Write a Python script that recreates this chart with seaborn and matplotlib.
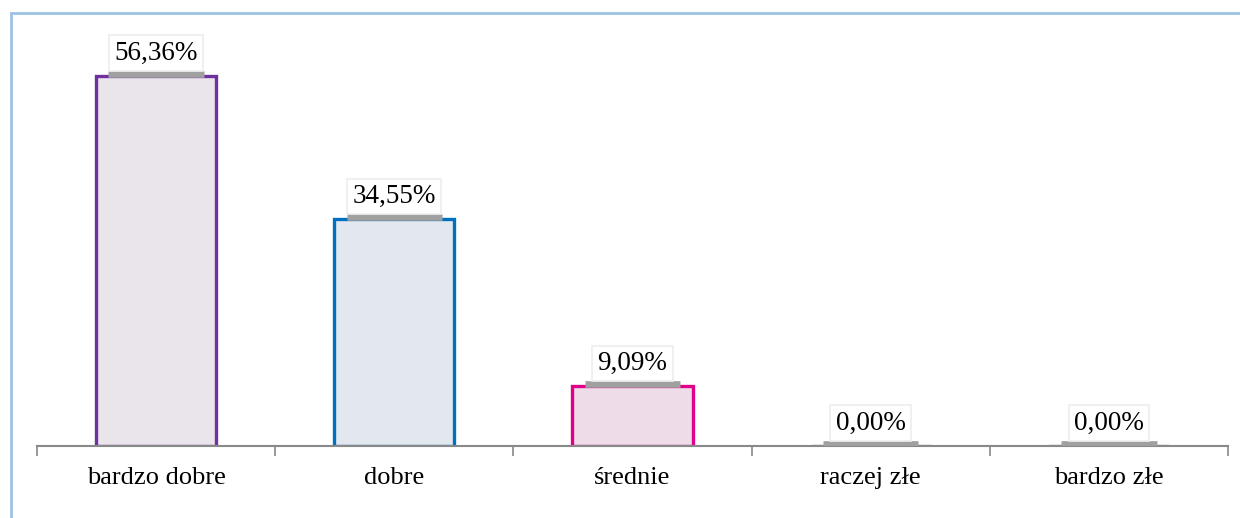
import numpy as np
import pandas as pd
import seaborn as sns
import matplotlib.pyplot as plt
import matplotlib.transforms as mtransforms
from matplotlib.patches import Rectangle

# Data
categories = ["bardzo dobre", "dobre", "średnie", "raczej złe", "bardzo złe"]
values = [56.36, 34.55, 9.09, 0.00, 0.00]
labels = ["56,36%", "34,55%", "9,09%", "0,00%", "0,00%"]
edge_colors = ["#7030A0", "#0070C0", "#E0008A", "#7F7F7F", "#7F7F7F"]
face_colors = ["#E9E4EC", "#E1E8F0", "#F1D9E9", "#EEEEEE", "#EEEEEE"]

df = pd.DataFrame({"kategoria": categories, "procent": values})

sns.set_style("white")
plt.rcParams["font.family"] = ["Liberation Serif", "DejaVu Serif"]

fig = plt.figure(figsize=(12.4, 5.18), dpi=100)
ax = fig.add_axes([37 / 1240, (518 - 446) / 518, (1228 - 37) / 1240, 426 / 518])

sns.barplot(data=df, x="kategoria", y="procent", hue="kategoria",
            palette=face_colors, width=0.505, ax=ax, legend=False)

for patch, ec in zip(ax.patches, edge_colors):
    patch.set_edgecolor(ec)
    patch.set_linewidth(2.4)

# data labels: white box with a grey strip under it
for patch, lab in zip(ax.patches, labels):
    xc = patch.get_x() + patch.get_width() / 2
    top = patch.get_height()
    shift = mtransforms.ScaledTranslation(0, 2.5 / 100, fig.dpi_scale_trans)
    ax.plot([xc - 0.2, xc + 0.2], [top, top], color="#A0A0A0", lw=4.8,
            solid_capstyle="butt", transform=ax.transData + shift, zorder=3)
    ax.annotate(lab, (xc, top), xytext=(0, 16.5), textcoords="offset points",
                ha="center", va="center", fontsize=19.5, color="black", zorder=4,
                bbox=dict(boxstyle="square,pad=0.2", fc="white", ec="#EEEEEE", lw=1.2))

ax.set_xlim(-0.5, 4.5)
ax.set_ylim(0, 426 / 6.56)
ax.set_xlabel("")
ax.set_ylabel("")
ax.set_yticks([])
for s in ["top", "right", "left"]:
    ax.spines[s].set_visible(False)
ax.spines["bottom"].set_color("#898989")
ax.spines["bottom"].set_linewidth(1.5)

ax.tick_params(axis="x", which="major", length=0, pad=15, labelsize=19,
               labelcolor="black")
ax.set_xticks(np.arange(-0.5, 5, 1), minor=True)
ax.tick_params(axis="x", which="minor", length=7, width=1.2, color="#898989",
               direction="out", bottom=True)

# chart frame (light blue)
fig.add_artist(Rectangle((10.5 / 1240, -0.05), 1.1, (518 - 12.5) / 518 + 0.05,
                         transform=fig.transFigure, fill=False,
                         ec="#9DC3E6", lw=2))

fig.savefig("out.png", dpi=100)
